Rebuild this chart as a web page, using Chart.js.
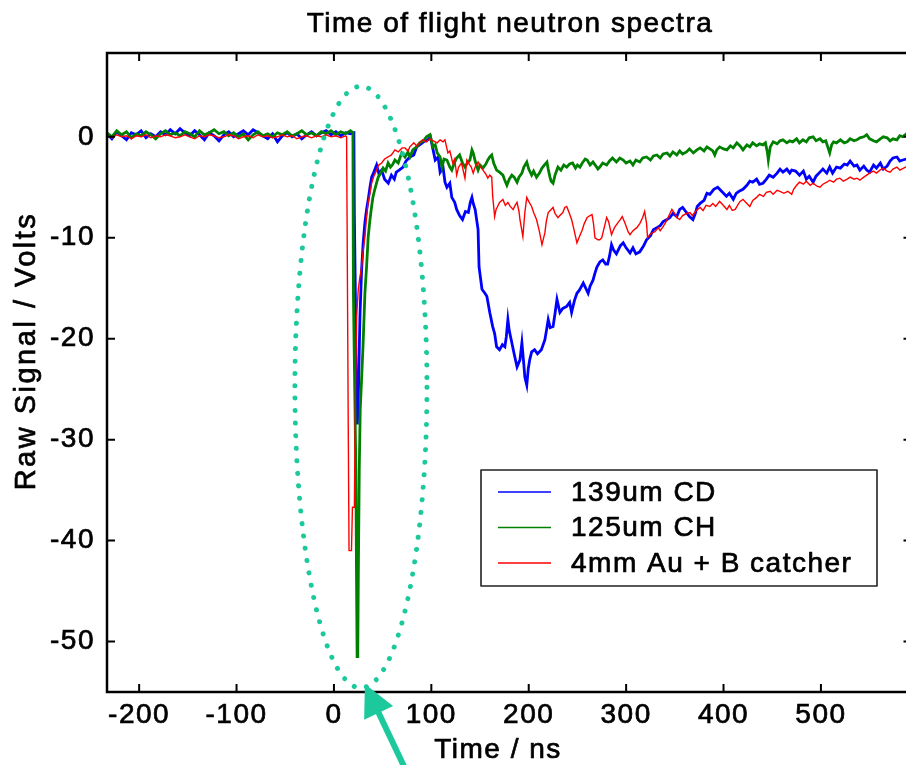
<!DOCTYPE html>
<html><head><meta charset="utf-8">
<script src="https://cdn.jsdelivr.net/npm/chart.js@4.4.0/dist/chart.umd.min.js"></script>
<style>
html,body{margin:0;padding:0;background:#fff;overflow:hidden;width:906px;height:765px;}
#wrap{position:absolute;left:0;top:0;width:925px;height:765px;}
</style></head><body>
<div id="wrap"><canvas id="c" width="925" height="765"></canvas></div>
<script>
const chartTitle = "Time of flight neutron spectra";
const xAxisTitle = "Time / ns";
const yAxisTitle = "Raw Signal / Volts";
const seriesLabels = ["139um CD", "125um CH", "4mm Au + B catcher"];
const seriesColors = ["#0000ff", "#008000", "#ff0000"];
const xTicks = [-200, -100, 0, 100, 200, 300, 400, 500];
const yTicks = [0, -10, -20, -30, -40, -50];

// [time ns, signal V]
const blueTrace = [[-233,0.3],[-228,-0.2],[-223,0.5],[-218,0.1],[-213,-0.3],[-208,0.4],[-203,0.2],[-198,0.6],[-193,-0.1],[-188,0.3],[-183,0.0],[-178,0.5],[-173,0.2],[-168,0.7],[-163,0.3],[-158,0.8],[-153,0.4],[-148,0.1],[-143,0.6],[-138,0.2],[-133,-0.3],[-128,0.4],[-123,0.1],[-118,-0.4],[-113,0.2],[-108,0.5],[-103,0.0],[-98,0.3],[-93,0.6],[-88,0.2],[-83,0.7],[-78,0.4],[-73,0.1],[-68,-0.2],[-63,0.3],[-58,-0.5],[-53,0.1],[-48,0.4],[-43,0.0],[-38,0.3],[-33,-0.2],[-28,0.2],[-23,0.5],[-18,0.1],[-13,0.4],[-8,0.6],[-3,0.2],[2,0.5],[7,0.1],[12,0.4],[17,0.3],[20.5,0.4],[21,-7.9],[22,-15.5],[23,-27],[24,-28.5],[25,-26],[26.7,-17.8],[28.4,-13.2],[30,-10.5],[31.8,-8.5],[33.5,-7.2],[35.2,-6.2],[37,-5],[38.7,-4],[41,-3.5],[43.8,-2.8],[46,-3.6],[49,-3.3],[52,-4.2],[55.8,-4.6],[59,-3.8],[62,-4.2],[64,-3.5],[67,-3.3],[71,-3],[74,-2.4],[78,-2],[82,-1.8],[85,-1],[88,-0.8],[92,-0.5],[96.5,-0.3],[99,0],[101.6,-1.2],[104,-2.3],[107,-2],[109,-3.5],[112,-3],[114,-4.5],[116,-5],[119,-4.6],[121,-6],[124,-6.5],[126,-7.2],[129,-7.8],[132,-8.2],[135,-7.4],[138,-7.5],[140,-6.5],[141.7,-6],[143,-6.6],[145,-7.2],[148,-9.2],[149,-12.9],[152,-15.1],[155,-15.5],[157,-15.8],[160,-17.4],[163,-18.8],[165,-19.5],[167,-20.8],[170,-21.1],[173,-20.6],[175.5,-20.8],[177,-19.8],[178.6,-18.1],[180,-19.2],[182,-20.1],[185,-21.5],[188,-22.8],[191,-22.1],[193,-20.4],[195,-22.6],[196,-23.8],[198,-24.6],[199.5,-23],[201,-22.1],[203,-21.3],[206,-21.1],[209,-21.5],[213,-21.1],[216.6,-20.1],[218,-19.3],[220,-18.1],[222,-18.9],[225,-18.8],[227,-17.5],[229,-16.1],[232,-17.4],[235,-17],[239,-16.8],[242,-16.4],[244,-17.4],[247,-16.2],[249.5,-15.5],[252,-15.2],[256,-14.5],[258,-14.9],[261,-15.5],[263,-14.8],[266,-14.2],[268,-13.5],[270,-12.9],[273,-12.4],[276,-12.2],[279,-12.6],[281,-12.6],[283,-11.8],[285,-10.7],[287,-11.2],[290,-11.6],[294,-10.8],[297,-10.5],[300,-11],[304,-11.5],[307,-11],[310,-11.6],[314,-11.4],[318,-10.8],[321,-10.2],[325,-9.8],[328,-9.2],[331.6,-9],[335,-8.8],[338,-8.4],[342,-8.2],[345,-8],[348,-7.6],[352,-7.9],[355,-7.2],[358,-7],[362,-7.5],[365,-7.9],[368.6,-8.2],[371,-7.6],[373,-6.9],[376,-6.6],[380,-6.3],[383,-5.6],[386,-5.7],[390,-5.2],[394,-5],[397,-5.3],[400,-5.6],[403,-5.9],[406,-5.6],[410,-6.2],[413,-5.6],[416,-5.4],[420,-5.2],[424,-4.8],[427,-4.4],[430,-4.5],[434,-4.2],[437,-4.7],[440.5,-4.6],[444,-4.2],[447,-3.8],[451,-4],[455,-3.6],[458,-3.2],[461,-3.5],[465,-3.2],[468,-3.6],[470,-3.3],[474,-3.4],[478,-3.8],[482,-3.4],[485,-4.2],[488,-3.9],[492,-4.5],[495,-3.9],[499,-3.5],[502,-3.2],[506,-3.6],[509,-3],[512,-3.6],[516,-3],[520,-3.1],[524,-2.7],[527,-2.8],[530,-2.4],[534,-2.9],[537,-2.8],[540,-3.3],[544,-2.9],[547,-3.3],[550,-3.5],[554,-2.8],[557,-3.1],[561,-2.6],[564,-3.2],[568,-2.9],[571,-2.4],[574,-2.1],[578,-2],[581,-2.4],[584,-2.3],[588,-2.2],[592,-2.1],[596,-2.3]];

const greenTrace = [[-233,0.4],[-228,0.0],[-223,0.6],[-218,0.2],[-213,0.5],[-208,-0.1],[-203,0.3],[-198,0.1],[-193,0.5],[-188,0.2],[-183,-0.2],[-178,0.3],[-173,0.6],[-168,0.2],[-163,0.4],[-158,0.1],[-153,0.5],[-148,0.3],[-143,0.0],[-138,0.6],[-133,0.2],[-128,0.4],[-123,0.7],[-118,0.3],[-113,0.5],[-108,0.1],[-103,0.4],[-98,0.0],[-93,0.3],[-88,-0.3],[-83,0.2],[-78,0.5],[-73,0.1],[-68,0.3],[-63,0.0],[-58,0.4],[-53,0.2],[-48,0.5],[-43,0.1],[-38,0.3],[-33,0.6],[-28,0.2],[-23,0.4],[-18,0.1],[-13,0.5],[-8,0.3],[-3,0.6],[2,0.2],[7,0.5],[12,0.3],[17,0.6],[19.5,0.4],[20,-15.5],[21.5,-26],[22.5,-33],[23.2,-44],[23.8,-51.5],[24.5,-51],[25,-44],[26,-33],[27,-27],[28.4,-24],[30,-20.4],[31.8,-15.5],[33.5,-12.9],[35.2,-9.9],[37,-8.2],[38.7,-6.9],[40,-6],[42,-5.2],[44,-4.5],[45.5,-4],[48,-3.6],[50.5,-3.1],[53,-3.4],[55.6,-2.6],[58,-3],[60,-2.8],[62.6,-2.3],[66,-2.6],[69.5,-1.6],[73,-2],[76,-1.5],[78,-2],[81,-1.3],[85,-1],[88,-0.6],[92,-0.4],[95,0],[98.6,0.2],[101.6,-1],[104,-0.8],[106,-1.6],[109,-2],[111,-3],[113,-2.2],[116,-2.3],[119,-3],[121,-3.3],[124,-2.5],[126,-2.1],[129,-1.8],[132,-2.6],[134.5,-3],[137,-2.6],[139.6,-2.3],[141.7,-1.3],[143,-1.6],[145,-2.4],[148,-3.3],[150,-2.8],[153,-3.1],[156,-2.7],[158,-2.3],[160,-2],[162,-1.8],[164,-2.6],[167,-3.3],[170,-3.5],[173.5,-3.8],[175,-4.2],[177.6,-4.8],[180,-4.2],[182.7,-3.8],[185,-4],[188,-4.5],[190,-4],[193,-3.6],[195,-3],[198,-2.5],[200,-3.2],[203,-3.8],[205,-3.4],[208,-4],[211,-3.6],[213.6,-3.1],[216,-2.8],[218.7,-2.5],[220,-3.2],[221.8,-4],[223,-4.4],[225,-4.6],[227,-3.8],[230,-3],[233,-3.3],[236,-2.8],[239,-3],[242,-2.7],[245,-2.6],[248,-3.1],[250,-2.8],[252.6,-3],[255,-2.6],[258,-2.2],[260,-2.3],[263,-2.8],[266,-2.5],[269,-2.9],[271,-3.2],[273,-3],[276,-2.6],[280,-2.8],[283,-2.4],[286,-2.1],[290,-2.5],[293.6,-2.1],[297,-2.3],[300,-2.6],[304,-2.4],[307,-2.8],[310,-2.3],[314,-2.5],[317,-2.1],[321,-2],[325,-2.3],[328,-1.9],[331.6,-1.8],[335,-2.1],[338,-1.7],[342,-1.6],[345,-1.9],[348,-1.5],[352,-1.8],[355,-1.4],[358,-1.7],[362,-1.5],[365,-1.2],[369,-1.6],[372.7,-1.3],[376,-1.1],[380,-1.4],[383,-1],[386,-1.2],[389,-1.4],[391,-1.8],[393,-1.3],[396,-1],[400,-1.2],[403.5,-1.3],[407,-0.9],[410,-1.1],[413.7,-0.6],[417,-0.9],[420,-1.3],[424,-0.8],[427,-1],[430,-0.6],[434,-0.9],[437,-0.7],[440.5,-0.8],[443,-0.6],[445,-1.5],[446,-2.3],[448,-1],[451,-0.5],[455,-0.7],[458,-0.4],[461,-0.3],[465,-0.6],[468,-0.4],[471,-0.5],[475,-0.2],[478,-0.6],[481.5,-0.3],[485,-0.5],[488,-0.1],[492,0],[495,-0.4],[499,-0.2],[502,-0.5],[505,-0.4],[507,-1],[509,-1.6],[511,-0.8],[513,-0.5],[516,-0.6],[520,-0.3],[524,-0.6],[527,-0.5],[530,-0.2],[534,-0.4],[537,-0.3],[540,-0.1],[544,0],[547,0.2],[550,-0.2],[554,-0.4],[557,-0.5],[561,-0.2],[564,0],[568,-0.1],[571,-0.4],[574,-0.2],[578,-0.3],[581,0.1],[584,0],[588,0.3],[592,0.1],[596,-0.1]];

const redTrace = [[-233,0.1],[-228,-0.1],[-223,0.2],[-218,0.0],[-213,0.1],[-208,-0.2],[-203,0.1],[-198,0.0],[-193,0.2],[-188,-0.1],[-183,0.1],[-178,0.0],[-173,0.2],[-168,0.1],[-163,-0.1],[-158,0.0],[-153,0.2],[-148,0.0],[-143,-0.2],[-138,0.1],[-133,0.0],[-128,0.2],[-123,0.1],[-118,-0.1],[-113,0.0],[-108,0.2],[-103,0.1],[-98,-0.2],[-93,0.0],[-88,0.1],[-83,-0.1],[-78,0.2],[-73,0.0],[-68,0.1],[-63,-0.1],[-58,0.0],[-53,0.2],[-48,0.0],[-43,0.1],[-38,-0.2],[-33,0.0],[-28,0.1],[-23,-0.1],[-18,0.1],[-13,0.0],[-8,0.2],[-3,0.0],[2,0.1],[7,-0.1],[12,0.1],[13,0.0],[13.5,-8.2],[14.7,-28.7],[15.5,-41],[18,-41],[19,-36.7],[21,-36.7],[22,-26],[23.3,-17.8],[25,-15.1],[26.5,-14],[28.4,-12.9],[30,-11.3],[31.8,-9.9],[33.5,-8],[35,-6.6],[37,-5.6],[38.7,-4.6],[41,-3.9],[43.8,-3.3],[46,-2.8],[49,-2.6],[52,-2.2],[55.6,-2],[59,-1.8],[62.6,-1.3],[66,-1.5],[70,-1.1],[73,-1.1],[76,-1.4],[78,-1],[82,-0.6],[85,-0.9],[88,-0.6],[91,-0.3],[95,-0.5],[98,-0.2],[102,-0.4],[106,-0.6],[109,-0.3],[112,-0.5],[114,-0.3],[117,-1.6],[119,-1.4],[122,-2.6],[124,-2.2],[126,-3.8],[128,-3],[131,-2.6],[134.5,-4.1],[136.5,-2.3],[139.6,-2.8],[141,-3],[143,-3.6],[145,-3],[148,-2.5],[150,-2.9],[153,-3.3],[156,-3.7],[158,-4.1],[160,-3.8],[162,-4],[163,-5.9],[165,-7.9],[166.5,-7.2],[168,-6.9],[170,-6.5],[173.5,-6.2],[176,-6.8],[178.6,-6.5],[181,-6.9],[184,-7.2],[186,-6.8],[188,-6.5],[190,-7.4],[191,-8.2],[194,-9.9],[196,-7.5],[198,-6],[200,-6.4],[203,-6.9],[205,-7.5],[208,-8.2],[211,-9.4],[213.6,-10.7],[216.6,-9.5],[218,-8.4],[220,-7.5],[222,-7.3],[225,-7],[227,-7.6],[230,-8],[232,-7.8],[235,-7.5],[237,-7],[239,-6.9],[241,-7.4],[244,-8.2],[246,-9],[249.5,-10.5],[252,-9.9],[255,-9.2],[257,-8.6],[260,-8],[263,-7.8],[265,-7.7],[266.5,-8.6],[268,-10],[271,-10.2],[273,-10.2],[275,-10],[277,-9.2],[280,-8],[282,-8.4],[285,-9.7],[288,-9],[291.6,-8.5],[294,-8.2],[296,-7.9],[299,-8.6],[302,-9.4],[304,-9.7],[307,-9.3],[311,-9],[314,-8.6],[317,-8],[319,-7.4],[321,-8.6],[322,-10],[325,-9.6],[329.6,-9.4],[333,-9],[335,-9.3],[338,-8.9],[341,-8.4],[344,-7.8],[347,-7.2],[350,-7.6],[352,-8],[355,-8.2],[358,-7.8],[362,-7.6],[365.5,-7.5],[368,-7.8],[372,-7.3],[376,-7],[379,-7.3],[382,-6.8],[386,-6.9],[389,-6.6],[392,-6.9],[396,-6.4],[399,-6.7],[403.5,-7.2],[406,-6.8],[409,-7.3],[412,-7.2],[415,-6.7],[417,-6.4],[420,-6.2],[423,-6.5],[427,-6.9],[430,-6.3],[434,-6],[437,-5.7],[441,-5.9],[444,-5.5],[448,-5.4],[451,-5.7],[455,-5.3],[458,-5.4],[462,-5.6],[466,-5.4],[470,-5.7],[472,-5.2],[475,-4.8],[478,-4.5],[482,-4.7],[485,-4.4],[489,-4.8],[492,-4.6],[496,-4.9],[499,-5],[502,-4.7],[506,-4.5],[509,-4.3],[513,-4.5],[516,-4.2],[519.5,-4.1],[523,-4.4],[527,-4.2],[530,-4],[534,-4.2],[537,-4.1],[540,-4.3],[544,-4],[547,-3.8],[550,-3.6],[554,-3.4],[557,-3.6],[560.6,-3.3],[564,-3.1],[568,-3.4],[571,-3.5],[574,-3.2],[578,-3],[581,-3.3],[585,-3.1],[589,-2.9],[593,-3.2],[597,-3]];

// annotation (data units)
const ellipseCenter = [27.7, -24.8];
const ellipseRadius = [67.8, 29.8];
const arrowTip = [31.8, -54.2];

const FONT = '"Liberation Sans", Arial, sans-serif';
const LS = '1.5px';

const toXY = tr => tr.map(p => ({x: p[0], y: p[1]}));
const traces = [blueTrace, greenTrace, redTrace];
const widths = [2.8, 2.8, 1.4];
const orders = [2, 1, 0];

function heavyText(c, s, x, y){ c.fillText(s, x, y); c.strokeText(s, x, y); }

const deco = {
  id: 'deco',
  beforeLayout(chart){ chart.ctx.letterSpacing = LS; },
  beforeDraw(chart){
    const c = chart.ctx; c.letterSpacing = LS;
    c.save(); c.fillStyle = '#fff'; c.fillRect(0,0,chart.width,chart.height); c.restore();
  },
  afterDraw(chart){
    const c = chart.ctx, a = chart.chartArea;
    const xs = chart.scales.x, ys = chart.scales.y;
    c.save();
    c.letterSpacing = LS;
    // box
    c.strokeStyle = '#000'; c.lineWidth = 2.5;
    c.strokeRect(a.left, a.top, a.right - a.left, a.bottom - a.top);
    // inward ticks
    c.lineWidth = 2;
    c.beginPath();
    xTicks.forEach(v => { const p = xs.getPixelForValue(v);
      c.moveTo(p, a.bottom); c.lineTo(p, a.bottom - 8);
      c.moveTo(p, a.top); c.lineTo(p, a.top + 8); });
    yTicks.forEach(v => { const p = ys.getPixelForValue(v);
      c.moveTo(a.left, p); c.lineTo(a.left + 8, p);
      c.moveTo(a.right, p); c.lineTo(a.right - 8, p); });
    c.stroke();
    // titles
    c.fillStyle = '#000'; c.strokeStyle = '#000'; c.lineWidth = 0.7; c.lineJoin = 'round';
    c.font = '28px ' + FONT;
    c.textAlign = 'center'; c.textBaseline = 'alphabetic';
    heavyText(c, chartTitle, 510, 32);
    heavyText(c, xAxisTitle, 498, 758);
    c.save(); c.translate(35, 351); c.rotate(-Math.PI/2);
    c.font = '29px ' + FONT; c.letterSpacing = '2.5px';
    heavyText(c, yAxisTitle, 0, 0); c.restore();
    // legend
    const L = {x: 481, y: 470, w: 396, h: 116};
    c.fillStyle = '#fff'; c.fillRect(L.x, L.y, L.w, L.h);
    c.strokeStyle = '#222'; c.lineWidth = 1.6; c.strokeRect(L.x, L.y, L.w, L.h);
    const rows = [492, 527.5, 563];
    seriesLabels.forEach((lab, i) => {
      c.strokeStyle = seriesColors[i]; c.lineWidth = 1.5;
      c.beginPath(); c.moveTo(498, rows[i]); c.lineTo(551, rows[i]); c.stroke();
      c.fillStyle = '#000'; c.strokeStyle = '#000'; c.lineWidth = 0.7;
      c.textAlign = 'left'; c.textBaseline = 'middle';
      heavyText(c, lab, 571, rows[i] + 1);
    });
    // dotted ellipse
    const cx = xs.getPixelForValue(ellipseCenter[0]);
    const cy = ys.getPixelForValue(ellipseCenter[1]);
    const rx = xs.getPixelForValue(ellipseCenter[0] + ellipseRadius[0]) - cx;
    const ry = cy - ys.getPixelForValue(ellipseCenter[1] + ellipseRadius[1]);
    const teal = '#1cc99d';
    c.strokeStyle = teal; c.lineWidth = 5; c.lineCap = 'round';
    c.setLineDash([0.01, 12.5]);
    c.beginPath(); c.ellipse(cx, cy, rx, ry, 0, 0, Math.PI*2); c.stroke();
    c.setLineDash([]);
    // arrow
    const tx = xs.getPixelForValue(arrowTip[0]), ty = ys.getPixelForValue(arrowTip[1]);
    const dx = 37, dy = 78, len = Math.hypot(dx, dy);
    const ux = dx/len, uy = dy/len, nx = -uy, ny = ux;
    const hl = 32, hw = 16;
    c.fillStyle = teal;
    c.beginPath();
    c.moveTo(tx, ty);
    c.lineTo(tx + ux*hl + nx*hw, ty + uy*hl + ny*hw);
    c.lineTo(tx + ux*hl - nx*hw, ty + uy*hl - ny*hw);
    c.closePath(); c.fill();
    c.strokeStyle = teal; c.lineWidth = 6; c.lineCap = 'butt';
    c.beginPath(); c.moveTo(tx + ux*(hl-2), ty + uy*(hl-2)); c.lineTo(tx + ux*140, ty + uy*140); c.stroke();
    c.restore();
  }
};

new Chart(document.getElementById('c'), {
  type: 'line',
  data: {
    datasets: traces.map((tr, i) => ({
      label: seriesLabels[i],
      data: toXY(tr),
      borderColor: seriesColors[i],
      borderWidth: widths[i],
      pointRadius: 0,
      tension: 0,
      fill: false,
      order: orders[i]
    }))
  },
  options: {
    responsive: false,
    animation: false,
    devicePixelRatio: 1,
    layout: {padding: {top: 53, right: 13.5, bottom: 0, left: 0}},
    plugins: {legend: {display: false}, title: {display: false}, tooltip: {enabled: false}},
    scales: {
      x: {
        type: 'linear', min: -233, max: 593,
        afterBuildTicks: s => { s.ticks = xTicks.map(v => ({value: v})); },
        afterFit: s => { s.height = 73; },
        grid: {display: false, drawTicks: false},
        border: {display: false},
        ticks: {color: '#000', font: {family: FONT, size: 28}, padding: 6, maxRotation: 0, autoSkip: false,
                textStrokeColor: '#000', textStrokeWidth: 0.7}
      },
      y: {
        type: 'linear', min: -55, max: 8.3,
        afterBuildTicks: s => { s.ticks = yTicks.map(v => ({value: v})); },
        afterFit: s => { s.width = 107; },
        grid: {display: false, drawTicks: false},
        border: {display: false},
        ticks: {color: '#000', font: {family: FONT, size: 28}, padding: 12, autoSkip: false,
                textStrokeColor: '#000', textStrokeWidth: 0.7}
      }
    }
  },
  plugins: [deco]
});
</script>
</body></html>
